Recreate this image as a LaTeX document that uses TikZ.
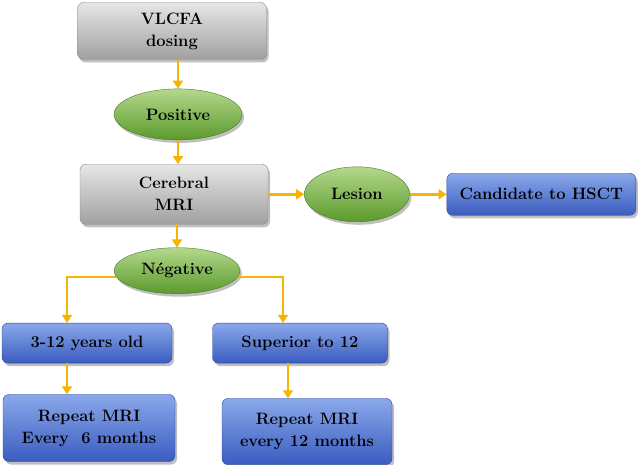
\documentclass[tikz,border=0pt]{standalone}
\usetikzlibrary{positioning,shapes,shadows,arrows.meta}

\definecolor{boxgrayT}{HTML}{E6E6E6}
\definecolor{boxgrayB}{HTML}{A0A0A0}
\definecolor{boxgrayD}{HTML}{8A8A8A}
\definecolor{ellgreenT}{HTML}{B4D88C}
\definecolor{ellgreenB}{HTML}{5A9A2C}
\definecolor{ellgreenD}{HTML}{467A26}
\definecolor{boxblueT}{HTML}{8AA8EA}
\definecolor{boxblueB}{HTML}{3A5CC0}
\definecolor{boxblueD}{HTML}{2A4A9A}
\definecolor{arrowamber}{HTML}{F5B400}

\begin{document}
\begin{tikzpicture}[
		x=1pt, y=-1pt,
		graybox/.style={rectangle, rounded corners=6pt, draw=boxgrayD, top color=boxgrayT, bottom color=boxgrayB, drop shadow={shadow xshift=2pt, shadow yshift=-3pt, opacity=0.5}, align=center, inner sep=0pt},
		greenell/.style={ellipse, draw=ellgreenD, top color=ellgreenT, bottom color=ellgreenB, drop shadow={shadow xshift=2pt, shadow yshift=-3pt, opacity=0.5}, inner sep=0pt},
		bluebox/.style={rectangle, rounded corners=6pt, draw=boxblueD, top color=boxblueT, bottom color=boxblueB, drop shadow={shadow xshift=2pt, shadow yshift=-3pt, opacity=0.5}, align=center, inner sep=0pt},
		arrow/.style={draw=arrowamber, line width=2.6pt, -{Triangle[width=10pt,length=8pt]}},
		every node/.append style={font=\bfseries\fontsize{16.5}{22}\selectfont},
		]
		\useasboundingbox (0,0) rectangle (638,465);

		%Main Nodes
		\node[graybox, minimum width=189pt, minimum height=57pt]	(vlcfa)	at (172,31)	{VLCFA\\dosing};
		\node[greenell, minimum width=128pt, minimum height=51pt]	(positive)	[below=29pt of vlcfa, xshift=6pt]	{Positive};
		\node[graybox, minimum width=188pt, minimum height=60pt]	(cerebral)	[below=24pt of positive, xshift=-4pt]	{Cerebral\\MRI};
		\node[greenell, minimum width=126pt, minimum height=46pt]	(negative)	[below=23pt of cerebral, xshift=3pt]	{N\'egative};

		%Lesion
		\node[greenell, minimum width=105pt, minimum height=55pt]	(lesion)	[right=36pt of cerebral]	{Lesion};
		\node[bluebox, minimum width=189pt, minimum height=42pt]	(hsct)	[right=37pt of lesion]	{Candidate to HSCT};

		%Age groups
		\node[bluebox, minimum width=170pt, minimum height=40pt]	(age_1)	[below=29pt of negative, xshift=-90pt]	{3-12 years old};
		\node[bluebox, minimum width=175pt, minimum height=40pt]	(age_2)	[below=29pt of negative, xshift=123pt]	{Superior to 12};
		\node[bluebox, minimum width=172pt, minimum height=67pt]	(repeat_1)	[below=31pt of age_1, xshift=2pt]	{Repeat MRI\\Every\ \ 6 months};
		\node[bluebox, minimum width=170pt, minimum height=66pt]	(repeat_2)	[below=35pt of age_2, xshift=7pt]	{Repeat MRI\\every 12 months};

		%Main Lines
		\draw[arrow]	(vlcfa.south -| positive.north)	--	(positive.north);
		\draw[arrow]	(positive.south)	--	(positive.south |- cerebral.north);
		\draw[arrow]	(cerebral.south -| negative.north)	--	(negative.north);
		\draw[arrow]	(cerebral.east)	--	(lesion.west);
		\draw[arrow]	(lesion.east)	--	(hsct.west);

		%Negative branches
		\draw[arrow]	(negative.186)	-|	([xshift=-20pt]age_1.north);
		\draw[arrow]	(negative.354)	-|	([xshift=-17pt]age_2.north);
		\draw[arrow]	([xshift=-20pt]age_1.south)	--	([xshift=-20pt]age_1.south |- repeat_1.north);
		\draw[arrow]	([xshift=-12pt]age_2.south)	--	([xshift=-12pt]age_2.south |- repeat_2.north);
	\end{tikzpicture}
\end{document}
